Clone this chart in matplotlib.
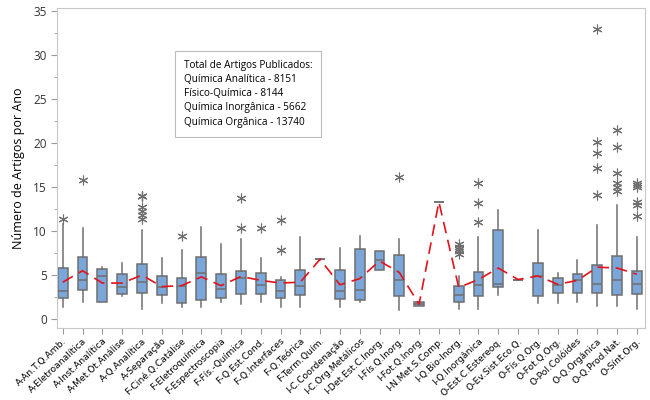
import numpy as np
import matplotlib
matplotlib.use("Agg")
import matplotlib.pyplot as plt

plt.rcParams['font.family'] = ['Open Sans', 'DejaVu Sans']

categories = [
    "A-An.T.Q.Amb.", "A-Eletroanalítica", "A-Inst.Analítica", "A-Met.Ót.Análise",
    "A-Q.Analítica", "A-Separação", "F-Ciné.Q.Catálise", "F-Eletroquímica",
    "F-Espectroscopia", "F-Fís.-Química", "F-Q.Est.Cond.", "F-Q.Interfaces",
    "F-Q.Teórica", "F-Term.Quím.", "I-C.Coordenação", "I-C.Org.Metálicos",
    "I-Det.Est.C.Inorg.", "I-Fís.Q.Inorg.", "I-Fot.Q.Inorg.", "I-N.Met.S.Comp.",
    "I-Q.Bio-Inorg.", "I-Q.Inorgânica", "O-Est.C.Estereoq.", "O-Ev.Sist.Eco.Q.",
    "O-Fís.Q.Org.", "O-Fot.Q.Org.", "O-Pol.Colóides", "O-Q.Orgânica",
    "O-Q.Prod.Nat.", "O-Sínt.Org.",
]

# box statistics
whislo = [1.4, 1.9, 2.0, 2.6, 1.2, 1.8, 1.4, 1.4, 2.0, 1.7,
          1.9, 1.4, 1.4, 6.8, 1.4, 2.0, 5.6, 1.0, 1.5, 13.3,
          1.1, 1.1, 2.8, 4.5, 1.8, 1.8, 1.95, 1.5, 1.5, 1.2]
q1 = [2.4, 3.3, 2.0, 2.9, 3.0, 2.8, 1.85, 2.2, 2.4, 2.9,
      2.9, 2.4, 2.8, 6.8, 2.3, 2.2, 5.6, 2.65, 1.5, 13.3,
      2.0, 2.6, 3.7, 4.5, 2.6, 3.0, 3.0, 3.0, 2.8, 2.9]
med = [3.2, 4.4, 4.85, 3.6, 4.2, 3.7, 3.75, 5.2, 3.4, 4.7,
       3.9, 3.2, 3.8, 6.8, 3.2, 3.3, 6.7, 4.4, 1.7, 13.3,
       2.8, 3.85, 3.96, 4.5, 4.9, 3.85, 4.4, 3.96, 4.5, 3.96]
q3 = [5.8, 7.0, 5.7, 5.1, 6.3, 4.85, 4.7, 7.0, 5.1, 5.5,
      5.2, 4.4, 5.6, 6.8, 5.6, 8.0, 7.7, 7.3, 1.9, 13.3,
      3.8, 5.3, 10.1, 4.5, 6.4, 4.7, 5.1, 6.2, 7.2, 5.5]
whishi = [10.8, 10.4, 5.9, 6.4, 10.1, 6.9, 7.9, 10.5, 8.5, 9.1,
          6.9, 4.8, 9.3, 6.8, 8.1, 9.4, 7.7, 9.05, 1.9, 13.3,
          4.9, 9.3, 12.4, 4.5, 10.1, 5.2, 6.7, 10.7, 12.9, 9.3]
means = [4.2, 5.5, 4.1, 4.1, 5.0, 3.7, 3.8, 4.8, 3.8, 4.85,
         4.4, 4.1, 4.2, 6.8, 3.9, 4.6, 6.6, 5.3, 1.7, 13.3,
         3.6, 4.5, 5.8, 4.5, 4.9, 3.96, 4.4, 5.9, 5.8, 5.1]
outliers = [
    [11.4], [15.8], [], [],
    [14.0, 14.0, 14.0, 12.7, 12.3, 11.8, 11.4], [], [9.4], [], [], [13.7, 10.3],
    [10.3], [11.2, 7.9], [], [], [], [], [], [16.1], [], [],
    [8.5, 8.2, 8.0, 7.7, 7.4], [15.4, 13.2, 11.0], [], [], [], [], [],
    [32.9, 20.1, 18.8, 17.2, 14.1],
    [21.5, 19.5, 16.6, 15.4, 15.0, 14.5],
    [15.4, 15.2, 15.0, 13.3, 13.0, 11.7],
]

legend_lines = [
    "Total de Artigos Publicados:",
    "Química Analítica - 8151",
    "Físico-Química - 8144",
    "Química Inorgânica - 5662",
    "Química Orgânica - 13740",
]

stats = []
for i, name in enumerate(categories):
    stats.append(dict(label=name, whislo=whislo[i], q1=q1[i], med=med[i],
                      q3=q3[i], whishi=whishi[i], fliers=outliers[i]))

fig = plt.figure(figsize=(6.5, 4), dpi=100)
ax = fig.add_axes([0.088, 0.18, 0.904, 0.80])

gray = "#6f6f6f"
pos = np.arange(1, len(categories) + 1)
ax.bxp(stats, positions=pos, widths=0.5, patch_artist=True, showcaps=False,
       boxprops=dict(facecolor="#7BA6DA", edgecolor=gray, linewidth=1.1),
       whiskerprops=dict(color=gray, linewidth=1.1),
       medianprops=dict(color=gray, linewidth=1.1),
       flierprops=dict(marker=(6, 2, 0), markersize=7, markeredgecolor=gray,
                       markerfacecolor=gray, markeredgewidth=0.8, linestyle="none"))

ax.plot(pos, means, color="#E3121B", linewidth=1.2, linestyle=(0, (7, 4)), zorder=5)

ax.set_xlim(0.72, 30.4)
ax.set_ylim(-1.0, 35.3)
ax.set_yticks(np.arange(0, 36, 5))
ax.set_yticks(np.arange(0, 36, 2.5), minor=True)
ax.set_xticks(pos)
ax.set_xticklabels(categories, rotation=43, ha="right", rotation_mode="anchor",
                   fontsize=6.6, family="DejaVu Sans")
ax.tick_params(axis="y", labelsize=8.5, colors="#333333", length=4, color="#999999")
ax.tick_params(axis="y", which="minor", length=2.5, color="#999999")
ax.tick_params(axis="x", length=4, color="#999999", pad=2)
ax.set_ylabel("Número de Artigos por Ano", fontsize=9, labelpad=6)
for sp in ax.spines.values():
    sp.set_color("#c8c8c8")

ax.text(0.215, 0.838, "\n".join(legend_lines), transform=ax.transAxes,
        fontsize=7.2, va="top", ha="left", linespacing=1.4,
        bbox=dict(boxstyle="square,pad=0.9", facecolor="white", edgecolor="#bbbbbb",
                  linewidth=0.8))

fig.savefig("out.png", dpi=100)
